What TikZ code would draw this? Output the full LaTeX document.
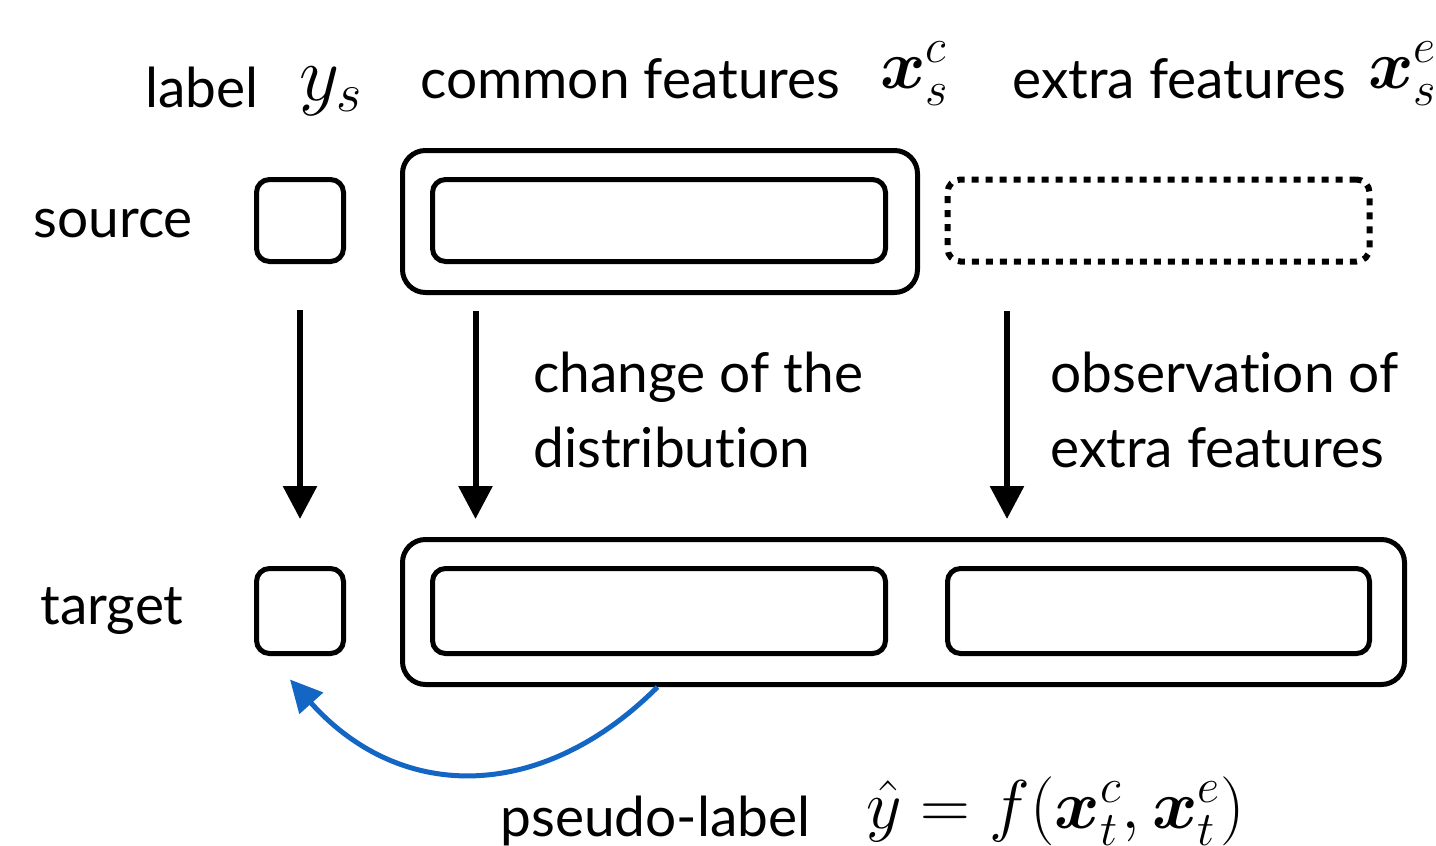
\RequirePackage{fix-cm}
\documentclass[tikz,border=0pt]{standalone}
\usepackage{fontspec}
\usepackage{amsmath,bm}
\setmainfont{Lato}[Ligatures=NoCommon]
\usetikzlibrary{arrows.meta,calc}
\definecolor{pblue}{RGB}{20,102,196}

\tikzset{
  box/.style={draw, line width=2.5pt, rounded corners=6.5pt, inner sep=0pt},
  outerbox/.style={box, rounded corners=11.5pt},
  dotbox/.style={box, line width=3pt, dash pattern=on 3.5pt off 3.5pt},
  arr/.style={line width=3pt, -{Triangle[length=16.5pt,width=16.5pt]}},
  bluearr/.style={pblue, line width=2.5pt, -{Triangle[length=16pt,width=15.5pt]}},
  txt/.style={anchor=base west, inner sep=0pt, font=\fontsize{27.5}{32}\selectfont},
  mathtxt/.style={anchor=base west, inner sep=0pt, font=\fontsize{34.5}{40}\selectfont},
}

\begin{document}
\begin{tikzpicture}[x=0.5pt, y=-0.5pt]
\useasboundingbox (0,0) rectangle (1436,846);

% column headings
\node[txt] (hlab) at (145,107) {label};
\node[mathtxt, font=\fontsize{39}{44}\selectfont] (hys) at (299,100) {$y_s$};
\node[txt] (hcom) at (420,98) {common features};
\node[mathtxt] (hxc) at (880,88) {$\bm{x}_s^c$};
\node[txt] (hext) at (1012,98) {extra features};
\node[mathtxt] (hxe) at (1368,88) {$\bm{x}_s^e$};

% row labels
\node[txt] (lsrc) at (33,237) {source};
\node[txt] (ltgt) at (40,624) {target};

% source row
\node[box, minimum width=43.5pt, minimum height=41pt] (ys) at (300,220.5) {};
\node[outerbox, minimum width=257.5pt, minimum height=71pt] (srcOuter) at (660,221.5) {};
\node[box, minimum width=226.5pt, minimum height=41pt] (srcIn) at (659,220.5) {};
\node[dotbox, minimum width=211pt, minimum height=41pt] (srcExtra) at (1158.5,220.5) {};

% target row
\node[box, minimum width=43.5pt, minimum height=42.5pt] (yt) at (300,611) {};
\node[outerbox, minimum width=501pt, minimum height=72.5pt] (tgtOuter) at (903.5,612) {};
\node[box, minimum width=226.5pt, minimum height=42.5pt] (tgtIn) at (659,611) {};
\node[box, minimum width=211pt, minimum height=42.5pt] (tgtExtra) at (1158.5,611) {};

% vertical arrows
\draw[arr, shorten <=23pt, shorten >=23.5pt] (ys.south) -- (yt.north);
\draw[arr, shorten <=7.75pt, shorten >=9pt]
  ([xshift=37.75pt]srcOuter.south west) -- ([xshift=37.75pt]srcOuter.south west |- tgtOuter.north);
\draw[arr, shorten <=23.25pt, shorten >=9pt]
  ([xshift=31.25pt]srcExtra.south west) -- ([xshift=31.25pt]srcExtra.south west |- tgtOuter.north);

% arrow captions
\node[txt] (c1a) at (533,392) {change of the};
\node[txt] (c1b) at (533,467) {distribution};
\node[txt] (c2a) at (1050,392) {observation of};
\node[txt] (c2b) at (1050,467) {extra features};

% pseudo-labelling arc
\coordinate (arcS) at ([xshift=128.75pt]tgtOuter.south west);
\coordinate (arcE) at ([xshift=-5pt, yshift=-11.75pt]yt.south);
\draw[bluearr] (arcS) .. controls +(-113,113) and +(113,126) .. (arcE);

\node[txt] (plab) at (500,836) {pseudo-label};
\node[mathtxt] (pform) at (866,828) {$\hat{y} = f(\bm{x}_t^c, \bm{x}_t^e)$};
\end{tikzpicture}
\end{document}
